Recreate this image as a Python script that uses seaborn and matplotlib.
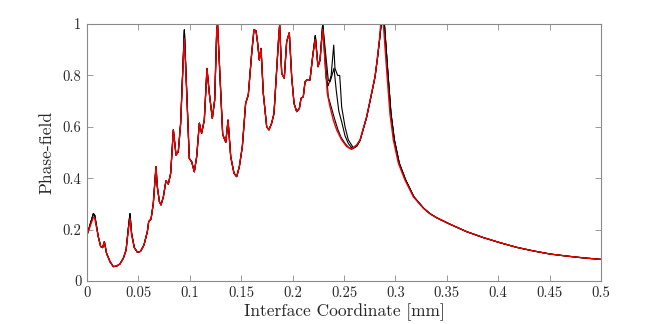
import numpy as np
import pandas as pd
import matplotlib
matplotlib.use("Agg")
import matplotlib.pyplot as plt
import seaborn as sns

# rough part of the interface (all runs agree up to x ~ 0.229)
x_rough = [0, 0.0062, 0.0075, 0.011, 0.0133, 0.0152, 0.0169, 0.019, 0.0224, 0.0256,
           0.0288, 0.032, 0.0353, 0.038, 0.0402, 0.0418, 0.0434, 0.046, 0.049, 0.052,
           0.0554, 0.0587, 0.06, 0.0623, 0.0645, 0.0671, 0.0684, 0.0704, 0.072, 0.0743,
           0.0768, 0.0791, 0.0814, 0.084, 0.0866, 0.0888, 0.0911, 0.093, 0.0947, 0.097,
           0.0995, 0.1018, 0.1044, 0.1067, 0.1093, 0.1115, 0.1141, 0.1167, 0.119, 0.1219,
           0.1242, 0.1262, 0.127, 0.1294, 0.132, 0.135, 0.1372, 0.1398, 0.143, 0.1456,
           0.1482, 0.1511, 0.1543, 0.1569, 0.1602, 0.1624, 0.1644, 0.166, 0.1676, 0.1693,
           0.1715, 0.1748, 0.177, 0.1796, 0.1819, 0.1845, 0.1865, 0.1874, 0.1894, 0.1919,
           0.1942, 0.1968, 0.1991, 0.2014, 0.204, 0.2066, 0.2082, 0.2104, 0.2121, 0.2143,
           0.2169, 0.2195, 0.2221, 0.2247, 0.2267, 0.2293]
red_rough = [0.179, 0.248, 0.245, 0.172, 0.134, 0.13, 0.153, 0.108, 0.075, 0.056,
             0.058, 0.066, 0.088, 0.12, 0.198, 0.244, 0.179, 0.13, 0.112, 0.115,
             0.14, 0.192, 0.231, 0.241, 0.302, 0.445, 0.367, 0.309, 0.296, 0.328,
             0.39, 0.377, 0.419, 0.588, 0.49, 0.503, 0.614, 0.795, 0.944, 0.73,
             0.477, 0.464, 0.425, 0.484, 0.614, 0.575, 0.626, 0.827, 0.73, 0.633,
             0.704, 0.977, 1.0, 0.795, 0.57, 0.54, 0.626, 0.484, 0.419, 0.406,
             0.445, 0.523, 0.691, 0.724, 0.886, 0.977, 0.974, 0.925, 0.86, 0.905,
             0.73, 0.6, 0.588, 0.614, 0.652, 0.821, 0.951, 0.996, 0.808, 0.789,
             0.931, 0.966, 0.795, 0.691, 0.659, 0.672, 0.711, 0.717, 0.775, 0.784,
             0.782, 0.873, 0.94, 0.834, 0.86, 0.98]
black_rough = [0.179, 0.262, 0.256, 0.172, 0.134, 0.13, 0.153, 0.108, 0.075, 0.056,
               0.058, 0.066, 0.088, 0.12, 0.205, 0.262, 0.185, 0.13, 0.112, 0.115,
               0.14, 0.192, 0.231, 0.241, 0.302, 0.445, 0.367, 0.309, 0.296, 0.328,
               0.39, 0.377, 0.419, 0.588, 0.49, 0.503, 0.614, 0.81, 0.977, 0.74,
               0.477, 0.464, 0.425, 0.484, 0.614, 0.575, 0.626, 0.827, 0.73, 0.633,
               0.704, 0.977, 1.0, 0.795, 0.57, 0.54, 0.626, 0.484, 0.419, 0.406,
               0.445, 0.523, 0.691, 0.724, 0.886, 0.977, 0.974, 0.925, 0.86, 0.905,
               0.73, 0.6, 0.588, 0.614, 0.652, 0.821, 0.951, 0.996, 0.808, 0.789,
               0.931, 0.966, 0.795, 0.691, 0.659, 0.672, 0.711, 0.717, 0.775, 0.784,
               0.782, 0.873, 0.955, 0.834, 0.86, 1.0]

# red run after the last rough peak
red_tail_x = [0.2338, 0.2364, 0.2396, 0.2429, 0.2477, 0.2526, 0.2575, 0.2623, 0.2656,
              0.272, 0.2768, 0.2802, 0.2825, 0.2845, 0.2857, 0.287, 0.2883, 0.2915,
              0.2947, 0.298, 0.3029, 0.3093, 0.3174, 0.3272, 0.3335, 0.3402, 0.3531,
              0.3693, 0.3855, 0.4018, 0.418, 0.4342, 0.4504, 0.4666, 0.4828, 0.5]
red_tail_y = [0.73, 0.678, 0.626, 0.588, 0.549, 0.523, 0.512, 0.529, 0.549,
              0.639, 0.73, 0.795, 0.87, 0.94, 1.0, 1.04, 1.0, 0.821,
              0.652, 0.549, 0.458, 0.393, 0.328, 0.283, 0.262, 0.246, 0.221,
              0.192, 0.169, 0.149, 0.131, 0.117, 0.105, 0.097, 0.09, 0.084]

# three black runs that split between x ~ 0.23 and 0.265
run_a_x = [0.2325, 0.2347, 0.2375, 0.24, 0.2412, 0.2438, 0.2458, 0.2468, 0.2477, 0.251,
           0.2542, 0.259, 0.2625]
run_a_y = [0.79, 0.76, 0.80, 0.918, 0.828, 0.80, 0.80, 0.74, 0.678, 0.6,
           0.549, 0.519, 0.53]
run_b_x = [0.2347, 0.2365, 0.2403, 0.2425, 0.245, 0.2477, 0.251, 0.2542, 0.258, 0.2625]
run_b_y = [0.782, 0.775, 0.828, 0.74, 0.66, 0.62, 0.565, 0.535, 0.516, 0.524]
run_c_x = [0.2347, 0.238, 0.2412, 0.244, 0.247, 0.251, 0.255, 0.259, 0.2625]
run_c_y = [0.717, 0.67, 0.626, 0.59, 0.56, 0.535, 0.518, 0.515, 0.526]

# black runs share the smooth tail, a hair to the right of red on the steep part
black_tail_x = [0.2656, 0.272, 0.2768, 0.2802, 0.2825, 0.2845, 0.2862, 0.2877, 0.2893,
                0.2925, 0.2957, 0.299, 0.3038, 0.31, 0.3179, 0.3275, 0.3337, 0.3402,
                0.3531, 0.3693, 0.3855, 0.4018, 0.418, 0.4342, 0.4504, 0.4666, 0.4828,
                0.5]
black_tail_y = [0.547, 0.637, 0.728, 0.795, 0.865, 0.935, 1.0, 1.04, 1.0,
                0.821, 0.652, 0.549, 0.458, 0.393, 0.328, 0.283, 0.262, 0.246,
                0.221, 0.192, 0.169, 0.149, 0.131, 0.117, 0.105, 0.097, 0.09,
                0.084]

x_ticks = [0, 0.05, 0.1, 0.15, 0.2, 0.25, 0.3, 0.35, 0.4, 0.45, 0.5]
x_labels = ["0", "0.05", "0.1", "0.15", "0.2", "0.25", "0.3", "0.35", "0.4", "0.45", "0.5"]
y_ticks = [0, 0.2, 0.4, 0.6, 0.8, 1]
y_labels = ["0", "0.2", "0.4", "0.6", "0.8", "1"]

runs = {
    "black a": (x_rough + run_a_x + black_tail_x, black_rough + run_a_y + black_tail_y),
    "black b": (x_rough + run_b_x + black_tail_x, black_rough + run_b_y + black_tail_y),
    "black c": (x_rough + run_c_x + black_tail_x, black_rough + run_c_y + black_tail_y),
    "red": (x_rough + red_tail_x, red_rough + red_tail_y),
}
frames = []
for name, (xs, ys) in runs.items():
    frames.append(pd.DataFrame({"x": xs, "y": ys, "run": name}))
df = pd.concat(frames, ignore_index=True)

sns.set_theme(style="ticks")
plt.rcParams["font.family"] = "cmr10"
plt.rcParams["mathtext.fontset"] = "cm"
plt.rcParams["axes.unicode_minus"] = False

fig = plt.figure(figsize=(6.64, 3.24), dpi=100)
ax = fig.add_axes([87 / 664, 1 - 281 / 324, 514 / 664, 257 / 324])

styles = {"black a": ("black", 0.8), "black b": ("black", 0.8),
          "black c": ("black", 0.8), "red": ("#ee0000", 1.0)}
for name in runs:
    sub = df[df["run"] == name]
    col, lw = styles[name]
    sns.lineplot(data=sub, x="x", y="y", ax=ax, color=col, lw=lw,
                 estimator=None, sort=False, legend=False)

ax.set_xlim(0, 0.5)
ax.set_ylim(0, 1)
ax.set_xticks(x_ticks)
ax.set_xticklabels(x_labels)
ax.set_yticks(y_ticks)
ax.set_yticklabels(y_labels)
ax.tick_params(direction="in", length=4, width=0.6, top=True, right=True,
               labelsize=10.5, colors="#8a8a8a", labelcolor="#262626", pad=4)
for s in ax.spines.values():
    s.set_visible(True)
    s.set_color("#8a8a8a")
    s.set_linewidth(0.8)
ax.set_xlabel("Interface Coordinate [mm]", fontsize=12.5, color="#262626", labelpad=2)
ax.set_ylabel("Phase-field", fontsize=12.5, color="#262626", labelpad=6)

fig.savefig("out.png", dpi=100)
